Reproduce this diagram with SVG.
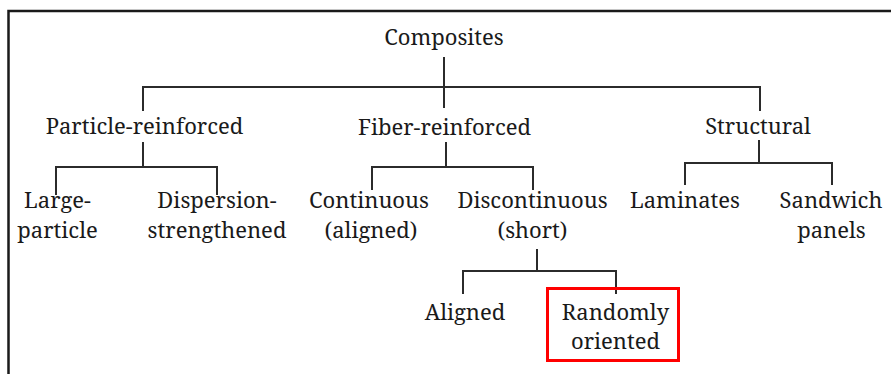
<svg xmlns="http://www.w3.org/2000/svg" width="891" height="374" viewBox="0 0 891 374">
<style>
text{font-family:'Noto Serif','DejaVu Serif',serif;font-size:22px;fill:#1a1a1a;text-anchor:middle}
.c{fill:none;stroke:#2b2b2b;stroke-width:2}
.frame{fill:none;stroke:#1a1a1a;stroke-width:2.5}
</style>
<rect width="891" height="374" fill="#ffffff"/>
<path class="frame" d="M8.5,380 V11 H900"/>
<g id="connectors">
<path class="c" d="M444,57 V108 M143,111 V87 H760 V111"/>
<path class="c" d="M143,142 V167 M56,195 V167 H217 V195"/>
<path class="c" d="M446,142 V167 M372,190 V167 H533 V190"/>
<path class="c" d="M759,140 V163 M685,185 V163 H832 V185"/>
<path class="c" d="M537,249 V271 M463,294 V271 H616 V294"/>
</g>
<g id="composites"><text x="444" y="45">Composites</text></g>
<g id="particle"><text x="144.5" y="134">Particle-reinforced</text></g>
<g id="fiber"><text x="444.5" y="135">Fiber-reinforced</text></g>
<g id="structural"><text x="758" y="134">Structural</text></g>
<g id="large"><text x="57.5" y="208">Large-</text><text x="57.5" y="238">particle</text></g>
<g id="dispersion"><text x="217" y="208">Dispersion-</text><text x="217" y="238">strengthened</text></g>
<g id="continuous"><text x="369" y="208">Continuous</text><text x="371" y="238">(aligned)</text></g>
<g id="discontinuous"><text x="532.5" y="208">Discontinuous</text><text x="532.5" y="238">(short)</text></g>
<g id="laminates"><text x="685" y="208">Laminates</text></g>
<g id="sandwich"><text x="831" y="208">Sandwich</text><text x="831.5" y="238">panels</text></g>
<g id="aligned"><text x="465" y="320">Aligned</text></g>
<g id="random"><rect x="547.5" y="288.5" width="131" height="72" fill="none" stroke="#ff0000" stroke-width="3"/><text x="615.5" y="320">Randomly</text><text x="615.5" y="349">oriented</text></g>
</svg>
